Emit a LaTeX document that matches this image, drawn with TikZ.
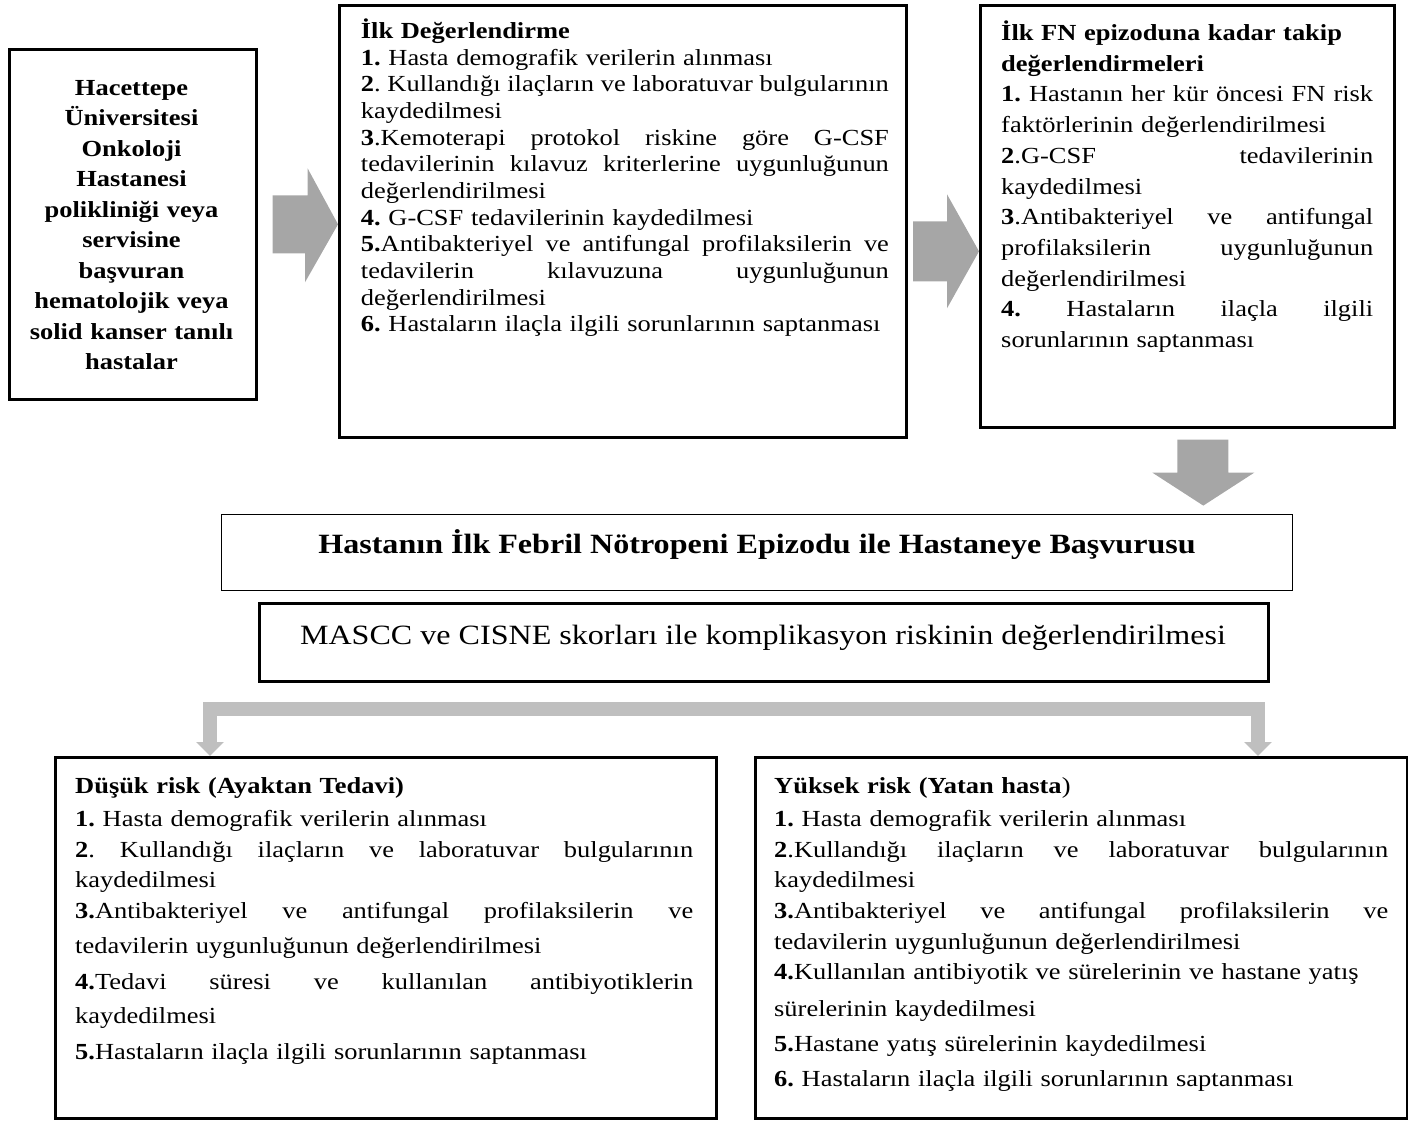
\documentclass[tikz,border=0pt]{standalone}
\usepackage{fontspec}
\setmainfont{Liberation Serif}[FakeStretch=1.15]
\usetikzlibrary{calc,arrows.meta}
\definecolor{arrowgray}{HTML}{A6A6A6}
\definecolor{splitgray}{HTML}{BFBFBF}
\newcommand\jl[1]{{\spaceskip=\fontdimen2\font plus 1fil minus 0.3\fontdimen2\font\relax
  \xspaceskip=\spaceskip\hbox to \hsize{#1}}\par}
\frenchspacing
\begin{document}
\begin{tikzpicture}[x=1pt,y=-1pt,
  box/.style={draw=black, line width=2.6pt, inner sep=0pt, anchor=north west},
  txt/.style={inner sep=0pt, anchor=base west},
  garrow/.style={fill=arrowgray},
  splitc/.style={draw=splitgray, line width=14pt, line join=miter, -{Triangle[width=27pt,length=14pt]}}]
\useasboundingbox (0,0) rectangle (1408,1120);

% boxes
\node[box, minimum width=247pt, minimum height=350pt] (A) at (8,48) {};
\node[box, minimum width=567pt, minimum height=432pt] (B) at (338,4) {};
\node[box, minimum width=414pt, minimum height=422pt] (C) at (979,4) {};
\node[box, line width=1.4pt, minimum width=1071pt, minimum height=76pt] (D) at (221,514) {};
\node[box, minimum width=1009pt, minimum height=78pt] (E) at (258,602) {};
\node[box, minimum width=661pt, minimum height=361pt] (F) at (54,756) {};
\node[box, minimum width=652pt, minimum height=361pt] (G) at (754,756) {};

% texts
\node[txt, anchor=base, align=center, text width=240pt, font=\bfseries\fontsize{23}{30.5}\selectfont] (tA) at (131.5,95)
{Hacettepe\\ Üniversitesi\\ Onkoloji\\ Hastanesi\\ polikliniği veya\\ servisine\\ başvuran\\ hematolojik veya\\ solid kanser tanılı\\ hastalar};

\node[txt, text width=528pt, font=\fontsize{23}{26.65}\selectfont] (tB) at (360.7,38.5) {%
\textbf{İlk Değerlendirme}\par
\textbf{1.} Hasta demografik verilerin alınması\par
\jl{\textbf{2}. Kullandığı ilaçların ve laboratuvar bulgularının}
kaydedilmesi\par
\jl{\textbf{3}.Kemoterapi protokol riskine göre G-CSF}
\jl{tedavilerinin kılavuz kriterlerine uygunluğunun}
değerlendirilmesi\par
\textbf{4.} G-CSF tedavilerinin kaydedilmesi\par
\jl{\textbf{5.}Antibakteriyel ve antifungal profilaksilerin ve}
\jl{tedavilerin kılavuzuna uygunluğunun}
değerlendirilmesi\par
\textbf{6.} Hastaların ilaçla ilgili sorunlarının saptanması};

\node[txt, text width=372pt, font=\fontsize{23}{30.7}\selectfont] (tC) at (1001,40.5) {%
\textbf{İlk FN epizoduna kadar takip}\par
\textbf{değerlendirmeleri}\par
\jl{\textbf{1.} Hastanın her kür öncesi FN risk}
faktörlerinin değerlendirilmesi\par
\jl{\textbf{2}.G-CSF tedavilerinin}
kaydedilmesi\par
\jl{\textbf{3}.Antibakteriyel ve antifungal}
\jl{profilaksilerin uygunluğunun}
değerlendirilmesi\par
\jl{\textbf{4.} Hastaların ilaçla ilgili}
sorunlarının saptanması};

\node[inner sep=0pt, anchor=base, font=\bfseries\fontsize{27.9}{32}\selectfont] (tD) at (757,553.5)
{Hastanın İlk Febril Nötropeni Epizodu ile Hastaneye Başvurusu};
\node[inner sep=0pt, anchor=base, font=\fontsize{27.9}{32}\selectfont] (tE) at (763,644)
{MASCC ve CISNE skorları ile komplikasyon riskinin değerlendirilmesi};

\node[txt, text width=618pt, font=\fontsize{23}{30.5}\selectfont] (tF) at (75,793.3) {%
\textbf{Düşük risk (Ayaktan Tedavi)}\par\vspace{2.9pt}
\textbf{1.} Hasta demografik verilerin alınması\par
\jl{\textbf{2}. Kullandığı ilaçların ve laboratuvar bulgularının}
kaydedilmesi\par
\jl{\textbf{3.}Antibakteriyel ve antifungal profilaksilerin ve}
\vspace{4.5pt}
tedavilerin uygunluğunun değerlendirilmesi\par\vspace{6.2pt}
\jl{\textbf{4.}Tedavi süresi ve kullanılan antibiyotiklerin}
\vspace{2.8pt}
kaydedilmesi\par\vspace{6.2pt}
\textbf{5.}Hastaların ilaçla ilgili sorunlarının saptanması};

\node[txt, text width=614pt, font=\fontsize{23}{30.5}\selectfont] (tG) at (774,793) {%
\textbf{Yüksek risk (Yatan hasta})\par\vspace{3.2pt}
\textbf{1.} Hasta demografik verilerin alınması\par
\jl{\textbf{2}.Kullandığı ilaçların ve laboratuvar bulgularının}
kaydedilmesi\par
\jl{\textbf{3.}Antibakteriyel ve antifungal profilaksilerin ve}
\vspace{0.5pt}
tedavilerin uygunluğunun değerlendirilmesi\par
\textbf{4.}Kullanılan antibiyotik ve sürelerinin ve hastane yatış\par\vspace{6.2pt}
sürelerinin kaydedilmesi\par\vspace{4.5pt}
\textbf{5.}Hastane yatış sürelerinin kaydedilmesi\par\vspace{4.5pt}
\textbf{6.} Hastaların ilaçla ilgili sorunlarının saptanması};

% block arrows
\coordinate (a1tail) at ($(A.east)+(15,0)$);
\coordinate (a1tip) at (B.west |- A.east);
\fill[garrow] ($(a1tail)+(0,-29)$) -- ++(35,0) -- ++(0,-27) -- (a1tip) -- ++(-33,58) -- ++(0,-29) -- ($(a1tail)+(0,29)$) -- cycle;

\coordinate (a2tip) at ($(C.west)+(0,35)$);
\fill[garrow] (a2tip) -- ++(-32,-57) -- ++(0,27) -- ++(-34,0) -- ++(0,60) -- ++(34,0) -- ++(0,27) -- cycle;

\coordinate (a3top) at ($(C.south)+(-10,11)$);
\fill[garrow] (a3top) -- ++(51,0) -- ++(0,33) -- ++(26,0) -- ++(-51,33) -- ++(-51,-33) -- ++(25,0) -- cycle;

% split connector
\coordinate (split) at ($(E.south)+(0,26)$);
\draw[splitc] (split) -| ($(F.north west)+(156,0)$);
\draw[splitc] (split) -| ($(G.north west)+(504,0)$);
\end{tikzpicture}
\end{document}
